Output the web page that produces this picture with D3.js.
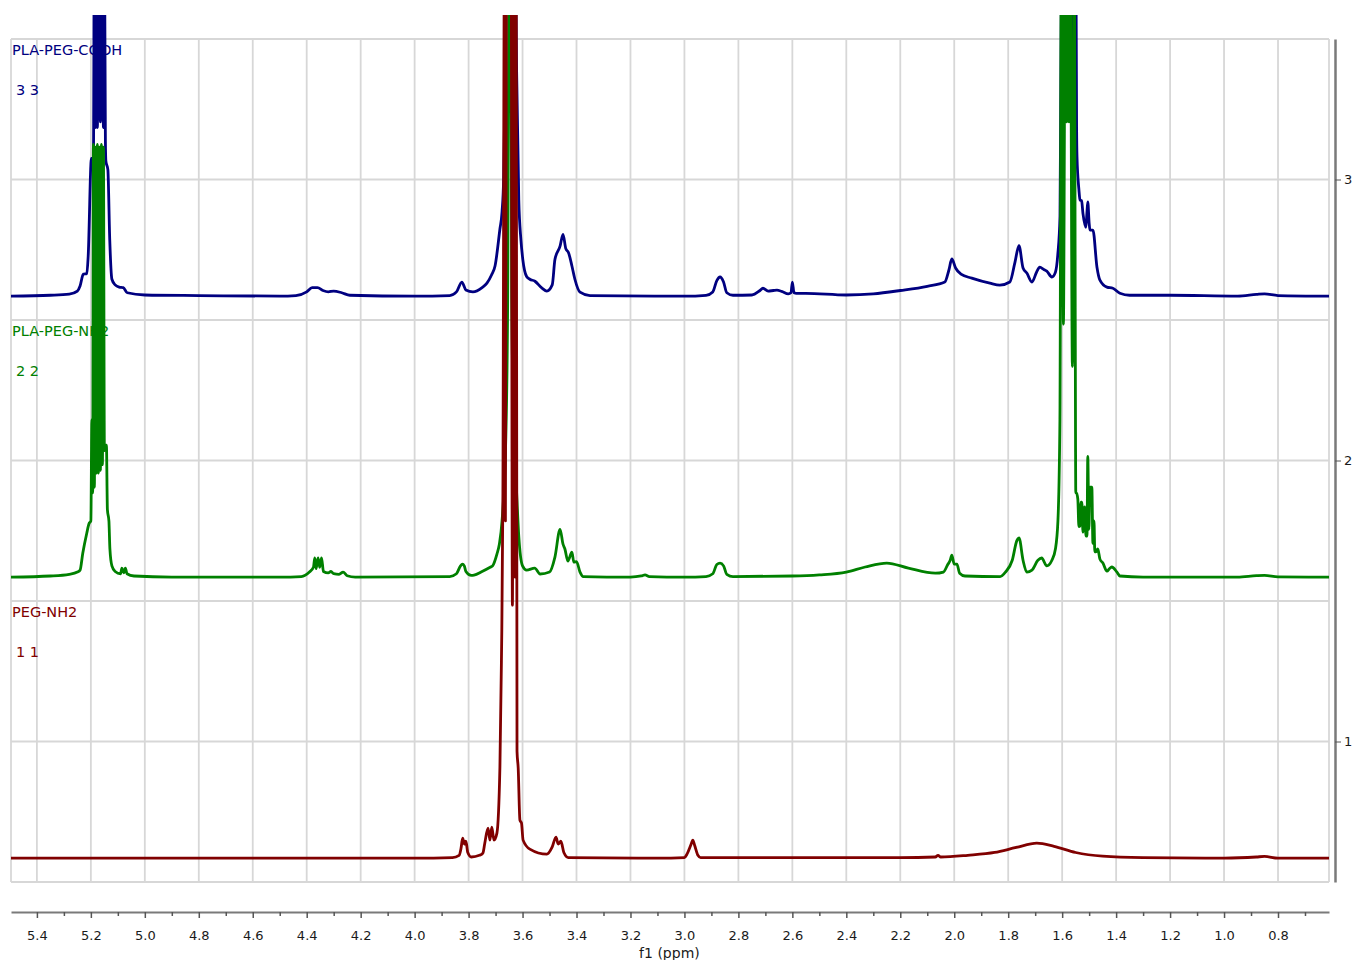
<!DOCTYPE html>
<html>
<head>
<meta charset="utf-8">
<script src="https://cdn.jsdelivr.net/npm/d3@7"></script>
<style>
  html, body { margin: 0; padding: 0; background: #ffffff; }
  svg { display: block; }
  text { font-family: "DejaVu Sans", Verdana, sans-serif; }
</style>
</head>
<body>
<svg id="chart" width="1355" height="960"></svg>
<script>
// ---------------- DATA ----------------
const ppmDomain = [5.496, 0.611];
const intensityDomain = [0.5, 3.5];
const xMajorTicks = [5.4, 5.2, 5.0, 4.8, 4.6, 4.4, 4.2, 4.0, 3.8, 3.6, 3.4, 3.2, 3.0, 2.8, 2.6, 2.4, 2.2, 2.0, 1.8, 1.6, 1.4, 1.2, 1.0, 0.8];
const xMinorTicks = [5.3, 5.1, 4.9, 4.7, 4.5, 4.3, 4.1, 3.9, 3.7, 3.5, 3.3, 3.1, 2.9, 2.7, 2.5, 2.3, 2.1, 1.9, 1.7, 1.5, 1.3, 1.1, 0.9, 0.7];
const yTicks = [1, 2, 3];
const yGridValues = [0.5, 1, 1.5, 2, 2.5, 3, 3.5];
const axisTitle = "f1 (ppm)";

const seriesNames = ["PLA-PEG-COOH", "PLA-PEG-NH2", "PEG-NH2"];
const seriesIndexLabels = ["3 3", "2 2", "1 1"];
const seriesOffsets = [2.585, 1.585, 0.585];
const seriesColors = ["#000080", "#008000", "#800000"];

// [ppm, intensity above baseline]
const plaPegCooh = [
  [5.496,0],[5.35,0.003],[5.28,0.007],[5.25,0.018],[5.24,0.036],[5.228,0.078],[5.215,0.08],[5.21,0.14],
  [5.198,0.49],[5.1906,0.49],[5.187,1.3],[5.1832,0.6],[5.1795,1.3],[5.1758,0.6],[5.1721,1.3],[5.1646,0.62],
  [5.1572,1.3],[5.1535,0.6],[5.1498,1.3],[5.1461,0.55],[5.1443,0.48],[5.137,0.45],[5.13,0.2],[5.122,0.06],
  [5.11,0.04],[5.095,0.032],[5.08,0.03],[5.065,0.012],
  [5.0,0.004],[4.8,0.002],[4.5,0],[4.44,0.002],[4.40,0.015],[4.38,0.03],[4.36,0.03],[4.34,0.02],[4.32,0.015],
  [4.30,0.018],[4.27,0.012],[4.24,0.003],[4.0,0],[3.87,0.002],[3.845,0.015],[3.825,0.05],[3.81,0.022],
  [3.784,0.015],[3.75,0.03],[3.732,0.046],[3.715,0.075],[3.702,0.107],[3.684,0.238],[3.676,0.30],[3.67,0.42],
  [3.664,0.8],[3.656,1.5],[3.63,1.5],[3.622,0.8],[3.614,0.345],[3.606,0.2],[3.599,0.13],[3.585,0.07],
  [3.573,0.06],[3.554,0.053],[3.53,0.03],[3.51,0.018],[3.49,0.04],[3.48,0.13],[3.461,0.178],[3.45,0.22],
  [3.44,0.17],[3.43,0.155],[3.425,0.14],[3.417,0.107],[3.406,0.06],[3.387,0.014],[3.35,0.002],[3.0,0],
  [2.92,0.003],[2.895,0.015],[2.88,0.055],[2.868,0.068],[2.855,0.05],[2.843,0.012],[2.82,0.003],[2.75,0.004],
  [2.72,0.02],[2.709,0.028],[2.69,0.018],[2.67,0.02],[2.657,0.021],[2.64,0.017],[2.615,0.008],[2.605,0.012],
  [2.60,0.05],[2.594,0.012],[2.585,0.01],[2.55,0.01],[2.4,0.004],[2.3,0.008],[2.2,0.02],[2.1,0.035],
  [2.035,0.05],[2.02,0.092],[2.009,0.132],[1.995,0.1],[1.975,0.078],[1.935,0.064],[1.868,0.046],[1.831,0.039],
  [1.794,0.05],[1.775,0.12],[1.76,0.18],[1.745,0.1],[1.731,0.082],[1.712,0.05],[1.695,0.085],[1.683,0.103],
  [1.668,0.095],[1.657,0.089],[1.638,0.068],[1.625,0.085],[1.616,0.15],[1.608,0.285],[1.6047,0.8],[1.601,1.3],
  [1.5954,0.8],[1.5898,1.3],[1.5799,0.8],[1.5737,1.3],[1.5678,0.8],[1.5602,1.3],[1.5528,0.8],[1.5495,1.3],
  [1.5465,0.6],[1.545,0.495],[1.538,0.38],[1.534,0.342],[1.528,0.34],[1.523,0.295],[1.512,0.245],
  [1.508,0.3],[1.505,0.335],[1.500,0.26],[1.497,0.235],[1.486,0.235],[1.471,0.103],[1.46,0.057],[1.434,0.032],
  [1.412,0.028],[1.386,0.01],[1.35,0.003],[1.2,0.003],[0.95,0],[0.88,0.006],[0.85,0.008],[0.8,0.002],[0.611,0]
];

const plaPegNh2 = [
  [5.496,0],[5.35,0.004],[5.28,0.01],[5.25,0.018],[5.24,0.025],[5.23,0.085],[5.215,0.157],[5.207,0.19],
  [5.2,0.2],[5.1962,0.56],[5.1932,0.3],[5.1906,1.54],[5.187,0.32],[5.1832,1.53],[5.1795,0.37],[5.1758,1.54],
  [5.1721,0.37],[5.1684,1.53],[5.1646,0.38],[5.1609,1.54],[5.1572,0.4],[5.1535,1.53],[5.1498,0.45],[5.1468,0.47],
  [5.1424,0.47],[5.1387,0.24],[5.1331,0.2],[5.1294,0.1],
  [5.122,0.04],[5.11,0.02],[5.09,0.012],[5.085,0.032],[5.078,0.015],[5.072,0.032],[5.066,0.012],[5.04,0.004],
  [4.9,0],[4.5,0],[4.42,0.002],[4.39,0.018],[4.375,0.035],[4.37,0.068],[4.365,0.03],[4.358,0.068],
  [4.352,0.035],[4.345,0.068],[4.338,0.02],[4.32,0.015],[4.31,0.02],[4.30,0.012],[4.28,0.01],[4.265,0.018],
  [4.25,0.005],[4.22,0],[3.87,0.002],[3.845,0.012],[3.83,0.04],[3.823,0.046],[3.816,0.04],[3.81,0.02],
  [3.79,0.006],[3.78,0.007],[3.75,0.02],[3.72,0.035],[3.711,0.04],[3.695,0.082],[3.686,0.117],[3.676,0.2],
  [3.662,0.5],[3.655,1.0],[3.6495,2.3],[3.6445,2.3],[3.64,1.0],[3.632,0.5],[3.622,0.3],[3.614,0.146],[3.60,0.04],
  [3.585,0.025],[3.555,0.032],[3.535,0.011],[3.50,0.018],[3.48,0.071],[3.461,0.17],[3.45,0.117],[3.443,0.1],
  [3.432,0.057],[3.417,0.089],[3.41,0.053],[3.40,0.055],[3.387,0.018],[3.375,0.002],[3.2,0],[3.16,0.004],
  [3.146,0.008],[3.13,0.002],[3.0,0],[2.92,0.002],[2.895,0.012],[2.88,0.045],[2.868,0.05],[2.855,0.04],
  [2.843,0.01],[2.82,0.002],[2.6,0.004],[2.5,0.008],[2.4,0.018],[2.33,0.036],[2.25,0.05],[2.17,0.032],
  [2.07,0.014],[2.04,0.018],[2.025,0.043],[2.015,0.06],[2.009,0.078],[2.0,0.046],[1.99,0.046],[1.98,0.014],
  [1.96,0.004],[1.83,0.002],[1.81,0.018],[1.785,0.06],[1.768,0.13],[1.76,0.14],[1.745,0.06],[1.731,0.018],
  [1.712,0.025],[1.69,0.06],[1.676,0.068],[1.657,0.04],[1.638,0.06],[1.625,0.1],[1.6157,0.2],[1.6083,0.56],
  [1.6028,2.3],[1.5954,0.9],[1.588,2.3],[1.5835,1.62],[1.5791,2.3],[1.5746,1.62],[1.5702,2.3],[1.562,0.75],
  [1.5546,2.3],[1.5517,1.0],[1.5495,0.3],
  [1.547,0.3],[1.542,0.278],[1.538,0.18],[1.534,0.182],[1.53,0.267],[1.527,0.267],[1.523,0.16],[1.519,0.24],
  [1.516,0.25],[1.512,0.146],[1.508,0.146],[1.505,0.43],[1.501,0.17],[1.497,0.32],[1.49,0.32],[1.486,0.12],
  [1.482,0.2],[1.479,0.09],[1.475,0.09],[1.468,0.1],[1.46,0.064],[1.449,0.05],[1.434,0.021],[1.425,0.03],
  [1.416,0.036],[1.397,0.018],[1.386,0.004],[1.3,0],[0.95,0],[0.88,0.005],[0.85,0.006],[0.8,0.001],[0.611,0]
];

const pegNh2 = [
  [5.496,0],[4.0,0],[3.86,0.002],[3.835,0.01],[3.828,0.035],[3.822,0.071],[3.816,0.05],[3.81,0.06],
  [3.803,0.02],[3.79,0.004],[3.76,0.01],[3.747,0.018],[3.74,0.053],[3.728,0.107],[3.721,0.064],[3.714,0.11],
  [3.706,0.064],[3.695,0.089],[3.6839,0.324],[3.6783,0.7],[3.6728,1.3],[3.6672,3.2],[3.6635,1.2],[3.6598,3.2],
  [3.6506,6],[3.6469,6],[3.6413,3.0],[3.6376,0.9],[3.6328,3.2],[3.6283,1.0],[3.6235,3.2],[3.6205,0.38],
  [3.6161,0.32],[3.6098,0.135],[3.604,0.125],[3.598,0.064],[3.573,0.032],[3.51,0.014],[3.49,0.04],[3.476,0.075],
  [3.468,0.05],[3.458,0.06],[3.447,0.02],[3.43,0.002],[3.1,0],[3.0,0.002],[2.99,0.015],[2.975,0.05],[2.969,0.064],
  [2.962,0.045],[2.95,0.01],[2.94,0.002],[2.2,0.002],[2.07,0.004],[2.06,0.01],[2.05,0.004],[1.95,0.01],
  [1.85,0.02],[1.77,0.038],[1.694,0.053],[1.63,0.042],[1.55,0.02],[1.45,0.007],[1.3,0.002],[1.0,0],
  [0.88,0.004],[0.85,0.006],[0.8,0],[0.611,0]
];

const spectra = [plaPegCooh, plaPegNh2, pegNh2];

// ---------------- CHART ----------------
const svg = d3.select("#chart");
const plot = { left: 11, right: 1329, top: 39, bottom: 882 };

const x = d3.scaleLinear().domain(ppmDomain).range([plot.left, plot.right]);
const y = d3.scaleLinear().domain(intensityDomain).range([plot.bottom, plot.top]);

// grid
const grid = svg.append("g").attr("stroke", "#d7d7d7").attr("stroke-width", 1.8).attr("fill", "none");
grid.selectAll("line.h").data(yGridValues).join("line")
  .attr("x1", plot.left).attr("x2", plot.right)
  .attr("y1", d => y(d)).attr("y2", d => y(d));
grid.selectAll("line.v").data(xMajorTicks.concat(ppmDomain)).join("line")
  .attr("x1", d => x(d)).attr("x2", d => x(d))
  .attr("y1", plot.top).attr("y2", plot.bottom);

// clip for spectra (traces rise a little above the frame)
svg.append("defs").append("clipPath").attr("id", "clip")
  .append("rect")
  .attr("x", plot.left).attr("y", plot.top - 24)
  .attr("width", plot.right - plot.left).attr("height", plot.bottom - plot.top + 24);

const traces = svg.append("g").attr("clip-path", "url(#clip)");
spectra.forEach((data, i) => {
  const line = d3.line()
    .curve(d3.curveMonotoneX)
    .x(d => x(d[0]))
    .y(d => y(seriesOffsets[i] + d[1]));
  traces.append("path")
    .datum(data)
    .attr("d", line)
    .attr("fill", "none")
    .attr("stroke", seriesColors[i])
    .attr("stroke-width", 2.8)
    .attr("stroke-linejoin", "round");
});

// series labels
seriesNames.forEach((name, i) => {
  const bandTop = y(Math.round(seriesOffsets[i]) + 0.5);
  svg.append("text")
    .attr("x", plot.left + 1).attr("y", bandTop + 16)
    .attr("fill", seriesColors[i]).attr("font-size", 14.5)
    .text(name);
  svg.append("text")
    .attr("x", plot.left + 5).attr("y", bandTop + 56)
    .attr("fill", seriesColors[i]).attr("font-size", 14.5)
    .text(seriesIndexLabels[i]);
});

// right axis
const rightAxis = d3.axisRight(y).tickValues(yTicks).tickSize(6).tickSizeOuter(0).tickPadding(3)
  .tickFormat(d3.format("d"));
const ra = svg.append("g").attr("transform", `translate(${plot.right + 6},0)`).call(rightAxis);
ra.select(".domain").attr("stroke", "#7a7a7a").attr("stroke-width", 2.5);
ra.selectAll(".tick line").attr("stroke", "#555");
ra.selectAll(".tick text").attr("font-size", 13).attr("fill", "#1a1a1a")
  .attr("font-family", "DejaVu Sans, Verdana, sans-serif");

// bottom axis
const axisY = 912;
const bottomAxis = d3.axisBottom(x).tickValues(xMajorTicks).tickSize(6).tickSizeOuter(0).tickPadding(13)
  .tickFormat(d3.format(".1f"));
const ba = svg.append("g").attr("transform", `translate(0,${axisY})`).call(bottomAxis);
ba.select(".domain").attr("stroke", "#7a7a7a").attr("stroke-width", 2);
ba.selectAll(".tick line").attr("stroke", "#555").attr("stroke-width", 1.5);
ba.selectAll(".tick text").attr("font-size", 13).attr("fill", "#1a1a1a")
  .attr("font-family", "DejaVu Sans, Verdana, sans-serif");
const minorAxis = d3.axisBottom(x).tickValues(xMinorTicks).tickSize(4).tickSizeOuter(0).tickFormat("");
const ma = svg.append("g").attr("transform", `translate(0,${axisY})`).call(minorAxis);
ma.select(".domain").remove();
ma.selectAll(".tick line").attr("stroke", "#555").attr("stroke-width", 1.5);

svg.append("text")
  .attr("x", x(3.0) - 15).attr("y", 958)
  .attr("text-anchor", "middle")
  .attr("font-size", 14).attr("fill", "#1a1a1a")
  .text(axisTitle);
</script>
</body>
</html>
